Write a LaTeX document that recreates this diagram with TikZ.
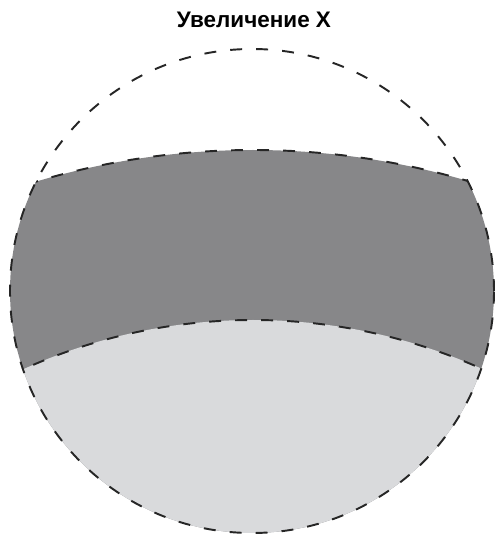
\documentclass[tikz,border=0pt]{standalone}
\usepackage{fontspec}
\setmainfont{Liberation Sans}
\usepackage{xcolor}
\definecolor{bandgray}{RGB}{135,135,137}
\definecolor{lowgray}{RGB}{217,218,220}
\begin{document}
\begin{tikzpicture}[x=0.02cm,y=0.02cm,
    edge/.style={line width=1.1pt, dash pattern=on 6.8pt off 8pt, black!85}]
        \useasboundingbox (0,0) rectangle (496,535);
        % title
        \node[font=\bfseries\fontsize{12.8}{15}\selectfont] (title) at (254,515) {Увеличение X};
        % zones inside the field of view
        \begin{scope}
            \clip (252,244) circle (242);
            \fill[bandgray] (253,-370) circle (755);
            \fill[lowgray] (253,-344) circle (559);
            % borders of the band
            \draw[edge] (253,-370) circle (755);
            \draw[edge] (253,-344) circle (559);
        \end{scope}
        % field of view
        \draw[edge] (252,244) circle (242);
    \end{tikzpicture}
\end{document}
